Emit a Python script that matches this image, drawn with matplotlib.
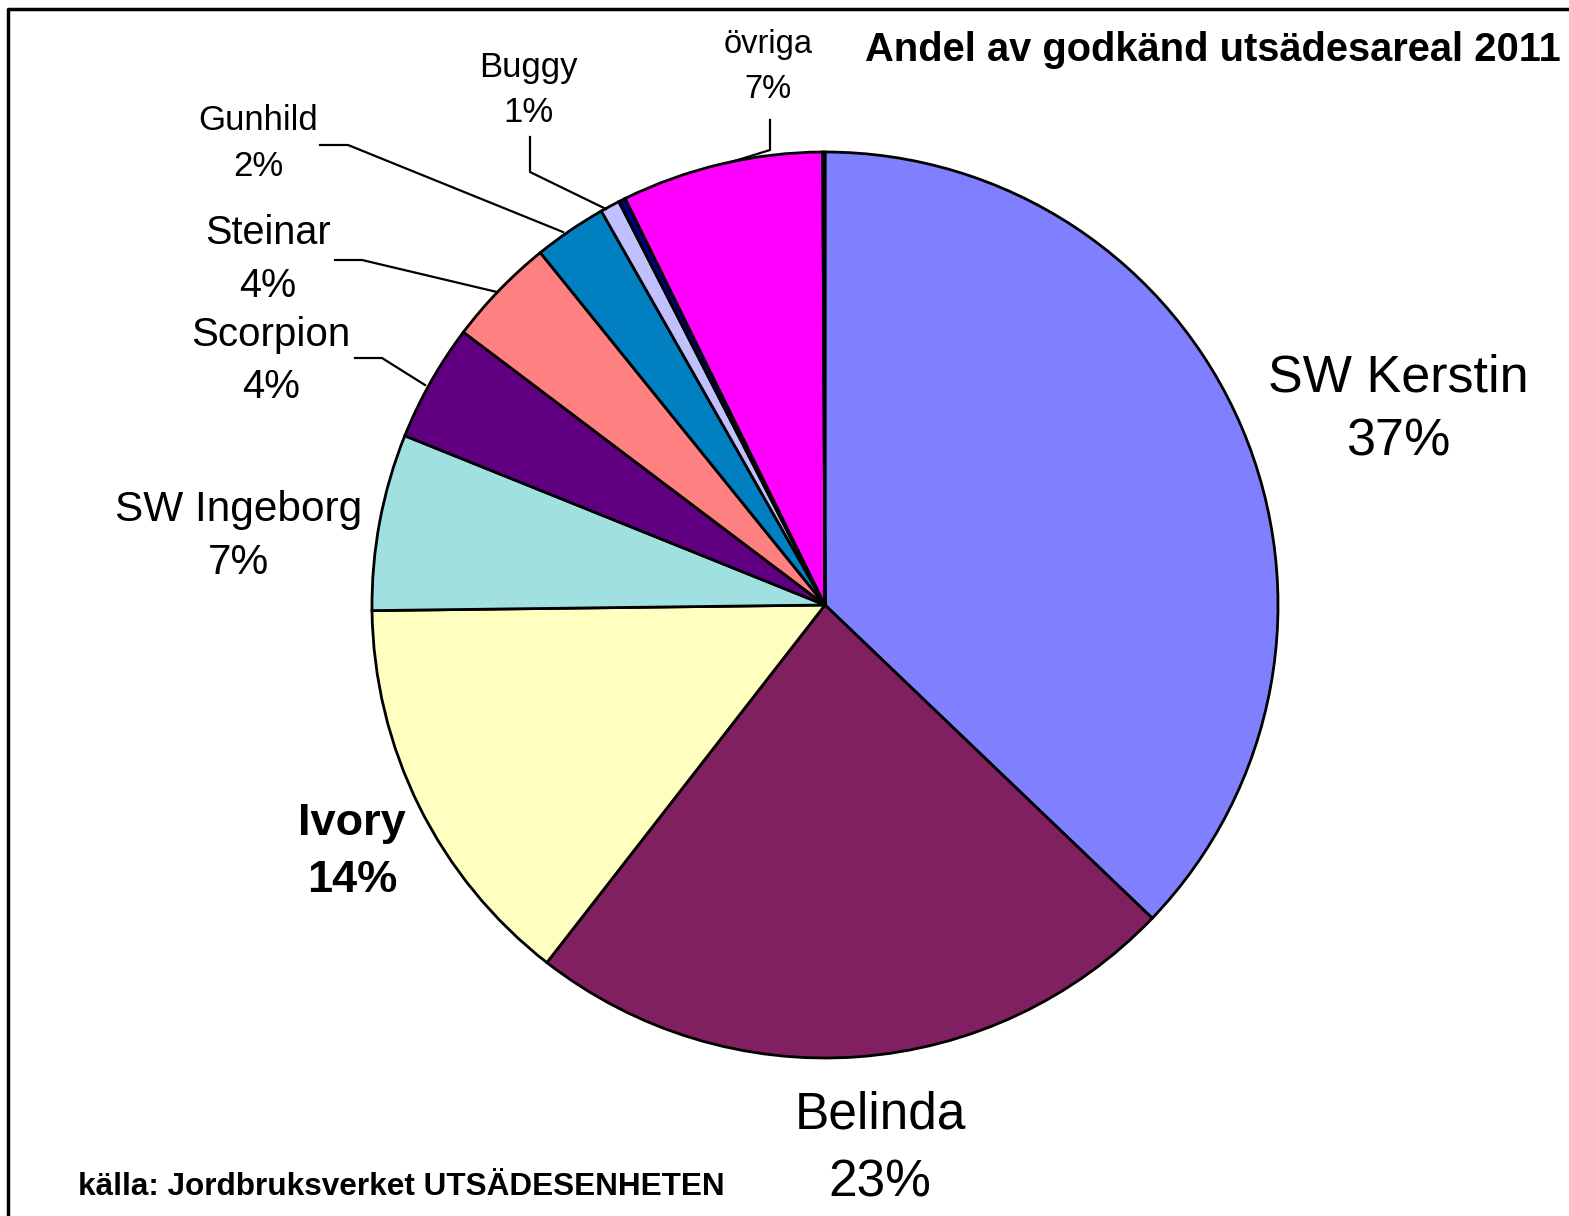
import matplotlib
matplotlib.use("Agg")
import matplotlib.pyplot as plt
from matplotlib.lines import Line2D

plt.rcParams['font.family'] = ['Liberation Sans', 'DejaVu Sans']

# ---- data ----
names = ["SW Kerstin", "Belinda", "Ivory", "SW Ingeborg", "Scorpion",
         "Steinar", "Gunhild", "Buggy", "", "övriga", ""]
values = [37.2, 23.4, 14.3, 6.3, 4.2, 3.9, 2.6, 0.7, 0.25, 7.2, 0.08]
pct_labels = ["37%", "23%", "14%", "7%", "4%", "4%", "2%", "1%", "", "7%", ""]
colors = ["#8080FF", "#802060", "#FFFFC0", "#A0E0E0", "#600080",
          "#FF8080", "#0080C0", "#C0C0FF", "#000080", "#FF00FF", "#000080"]
title = "Andel av godkänd utsädesareal 2011"
source = "källa: Jordbruksverket UTSÄDESENHETEN"

W, H = 1569, 1216
fig = plt.figure(figsize=(W / 100, H / 100), dpi=100)
ax = fig.add_axes([0, 0, 1, 1])

def Y(y):
    return H - y

cx, cy, R = 825, Y(605), 453
ax.pie(values, colors=colors, startangle=90, counterclock=False,
       center=(cx, cy), radius=R,
       wedgeprops=dict(edgecolor="black", linewidth=2.0))
ax.set_xlim(0, W)
ax.set_ylim(0, H)
ax.set_aspect('equal')
ax.axis('off')

# label layout: (x center, y name, y pct, fontsize, bold)
layout = {
    0: (1398, 378, 442, 37.5, False),
    1: (880, 1115, 1183, 37, False),
    2: (352, 823, 881, 32.5, True),
    3: (239, 510, 563, 30.5, False),
    4: (271, 335, 387, 29, False),
    5: (268, 233, 286, 28.5, False),
    6: (258, 120, 166, 25, False),
    7: (528, 67, 112, 25, False),
    9: (768, 45, 90, 23.5, False),
}
for i, (x, yn, yp, fs, bold) in layout.items():
    fw = "bold" if bold else "normal"
    ax.text(x, Y(yn), names[i], ha="center", va="center", fontsize=fs, fontweight=fw)
    ax.text(x, Y(yp), pct_labels[i], ha="center", va="center", fontsize=fs, fontweight=fw)

# leader lines
leaders = [
    [(320, 145), (348, 145), (563, 232)],
    [(530, 137), (530, 172), (606, 209)],
    [(770, 120), (770, 150), (728, 163)],
    [(335, 260), (362, 260), (497, 292)],
    [(355, 358), (382, 358), (425, 385)],
]
for pts in leaders:
    xs = [p[0] for p in pts]
    ys = [Y(p[1]) for p in pts]
    ax.add_line(Line2D(xs, ys, color="black", linewidth=1.6))

ax.text(1561, Y(50), title, ha="right", va="center", fontsize=28.7, fontweight="bold")
ax.text(78, Y(1187), source, ha="left", va="center", fontsize=22.7, fontweight="bold")

# frame (left and top edges visible)
ax.add_line(Line2D([8, 8, W], [0, Y(9), Y(9)], color="black", linewidth=2.5))

fig.savefig("out.png", dpi=100)
